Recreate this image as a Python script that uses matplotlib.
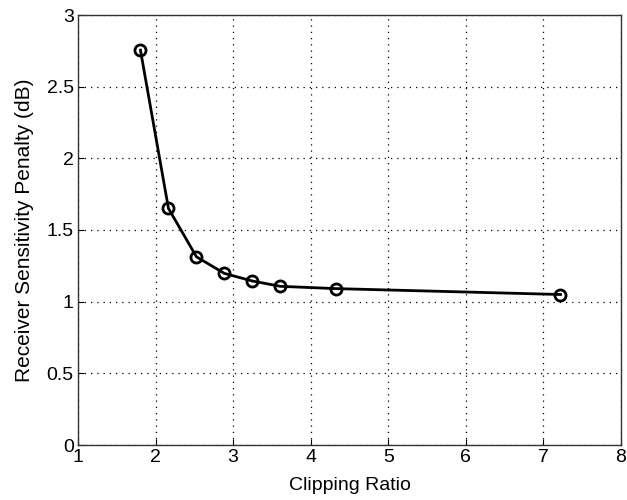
import numpy as np
import matplotlib
matplotlib.use('Agg')
import matplotlib.pyplot as plt

plt.rcParams['font.family'] = ['Liberation Sans', 'DejaVu Sans']

# 数据
clip_ratio = [1.805, 2.166, 2.527, 2.888, 3.249, 3.61, 4.33, 7.22]
penalty = [2.755, 1.651, 1.313, 1.197, 1.144, 1.107, 1.091, 1.050]
x_ticks = [1, 2, 3, 4, 5, 6, 7, 8]
y_ticks = [0, 0.5, 1, 1.5, 2, 2.5, 3]
y_tick_labels = ['0', '0.5', '1', '1.5', '2', '2.5', '3']

fig = plt.figure(figsize=(6.27, 5.0), dpi=100)
ax = fig.add_axes([0.1244, 0.11, 0.8660, 0.86])

ax.plot(clip_ratio, penalty, color='black', linewidth=2,
        marker='o', markersize=8, markerfacecolor='none',
        markeredgewidth=2, markeredgecolor='black')

ax.set_xlim(1, 8)
ax.set_ylim(0, 3)
ax.set_xticks(x_ticks)
ax.set_yticks(y_ticks)
ax.set_yticklabels(y_tick_labels)
ax.tick_params(labelsize=14, direction='in', length=4, color='black', pad=3)

# 网格
ax.grid(True, linestyle=(0, (1, 4)), color='black', linewidth=0.9)
for s in ax.spines.values():
    s.set_color('#333333')
    s.set_linewidth(1)

ax.set_xlabel('Clipping Ratio', fontsize=14, labelpad=8)
ax.set_ylabel('Receiver Sensitivity Penalty (dB)', fontsize=15, labelpad=9)

fig.savefig('out.png', dpi=100)
